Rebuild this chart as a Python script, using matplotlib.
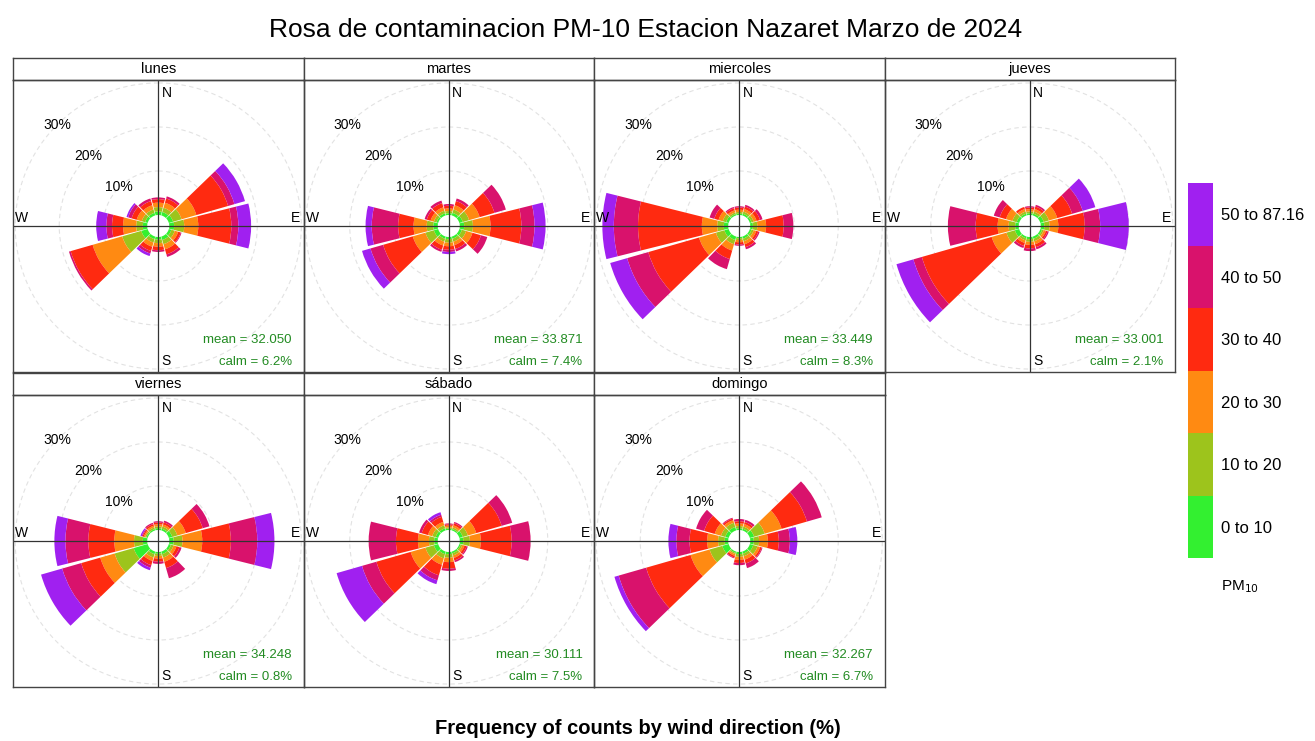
import numpy as np
import matplotlib
matplotlib.use("Agg")
import matplotlib.pyplot as plt
from matplotlib.colors import ListedColormap, BoundaryNorm
import matplotlib.colorbar as mcolorbar

plt.rcParams['font.family'] = ['Liberation Sans', 'DejaVu Sans']

dias = ["lunes", "martes", "miercoles", "jueves", "viernes", "sábado", "domingo"]
direcciones = [0, 30, 60, 90, 120, 150, 180, 210, 240, 270, 300, 330]
intervalos = ["0 to 10", "10 to 20", "20 to 30", "30 to 40", "40 to 50", "50 to 87.16"]
colores = ["#33f030", "#9dc41c", "#ff8a12", "#ff2a10", "#d9126c", "#a020f0"]

# frecuencia (%) por direccion (filas) e intervalo de PM10 (columnas)
lunes = [[0.8, 1.0, 1.0, 0.8, 0.4, 0.0],
         [0.8, 1.0, 1.2, 1.0, 0.5, 0.0],
         [1.0, 2.0, 3.5, 7.5, 1.5, 2.5],
         [1.1, 2.3, 3.2, 7.5, 1.6, 2.9],
         [0.6, 0.8, 0.8, 0.6, 0.2, 0.0],
         [0.8, 1.0, 1.2, 1.2, 0.6, 0.0],
         [0.6, 0.8, 0.8, 0.8, 0.4, 0.0],
         [0.6, 0.8, 1.0, 1.0, 0.6, 0.6],
         [1.5, 4.5, 7.0, 5.2, 0.4, 0.0],
         [1.0, 1.5, 3.0, 2.5, 1.3, 2.3],
         [0.6, 0.8, 1.2, 1.2, 0.8, 0.4],
         [0.6, 0.8, 1.0, 1.0, 0.6, 0.0]]
martes = [[0.4, 0.5, 0.6, 0.6, 0.4, 0.0],
          [0.6, 0.8, 1.0, 1.0, 0.6, 0.0],
          [0.8, 1.5, 2.5, 3.5, 2.7, 0.0],
          [1.0, 2.0, 4.0, 7.0, 3.0, 2.5],
          [0.6, 1.0, 1.5, 2.0, 1.5, 0.0],
          [0.5, 0.7, 0.8, 0.9, 0.6, 0.0],
          [0.5, 0.8, 0.8, 0.8, 0.5, 0.5],
          [0.5, 0.7, 0.9, 1.0, 0.5, 0.0],
          [1.0, 2.0, 3.0, 7.0, 3.0, 2.0],
          [1.0, 1.5, 3.0, 3.5, 6.0, 1.4],
          [0.4, 0.6, 0.8, 0.9, 0.5, 0.0],
          [0.5, 0.6, 0.8, 1.0, 0.6, 0.0]]
miercoles = [[0.3, 0.4, 0.5, 0.5, 0.3, 0.0],
             [0.4, 0.5, 0.6, 0.6, 0.4, 0.0],
             [0.4, 0.5, 0.7, 0.8, 0.6, 0.0],
             [0.6, 1.0, 2.0, 4.0, 2.2, 0.0],
             [0.4, 0.5, 0.6, 0.5, 0.3, 0.0],
             [0.5, 0.6, 0.7, 0.7, 0.5, 0.0],
             [0.3, 0.4, 0.5, 0.5, 0.3, 0.0],
             [0.8, 1.0, 1.5, 2.0, 2.4, 0.0],
             [1.0, 2.0, 4.0, 12.0, 5.0, 4.0],
             [1.0, 1.5, 3.5, 14.5, 5.5, 2.6],
             [0.6, 0.8, 1.0, 1.0, 1.1, 0.0],
             [0.3, 0.4, 0.5, 0.5, 0.3, 0.0]]
jueves = [[0.4, 0.4, 0.5, 0.4, 0.3, 0.0],
          [0.4, 0.5, 0.6, 0.6, 0.4, 0.0],
          [0.8, 1.2, 2.0, 3.5, 2.5, 3.0],
          [0.8, 1.2, 2.0, 6.0, 3.5, 6.5],
          [0.4, 0.4, 0.5, 0.4, 0.3, 0.0],
          [0.5, 0.6, 0.7, 0.7, 0.5, 0.0],
          [0.5, 0.6, 0.7, 0.8, 0.6, 0.0],
          [0.4, 0.5, 0.6, 0.7, 0.5, 0.0],
          [1.0, 2.0, 3.5, 16.5, 2.0, 4.0],
          [0.8, 1.5, 2.5, 5.0, 6.3, 0.0],
          [0.6, 1.0, 1.5, 1.5, 1.4, 0.0],
          [0.4, 0.5, 0.6, 0.5, 0.0, 0.0]]
viernes = [[0.4, 0.4, 0.5, 0.4, 0.3, 0.0],
           [0.4, 0.5, 0.5, 0.5, 0.4, 0.0],
           [0.8, 1.2, 2.0, 4.0, 1.6, 0.0],
           [1.0, 2.0, 4.5, 6.5, 6.0, 3.9],
           [0.5, 0.6, 0.7, 0.7, 0.5, 0.0],
           [0.6, 0.8, 1.0, 1.5, 2.4, 0.0],
           [0.4, 0.5, 0.6, 0.7, 0.5, 0.0],
           [0.6, 0.8, 0.8, 1.0, 0.6, 0.6],
           [3.3, 4.5, 3.4, 4.5, 4.5, 5.0],
           [1.0, 2.0, 4.5, 5.9, 5.2, 2.5],
           [0.3, 0.3, 0.3, 0.3, 0.2, 0.3],
           [0.3, 0.4, 0.4, 0.4, 0.3, 0.0]]
sabado = [[0.3, 0.3, 0.4, 0.3, 0.2, 0.0],
          [0.3, 0.4, 0.5, 0.5, 0.3, 0.0],
          [0.8, 1.2, 2.0, 6.0, 2.5, 0.0],
          [0.8, 1.5, 2.5, 7.0, 4.3, 0.0],
          [0.3, 0.4, 0.5, 0.5, 0.3, 0.0],
          [0.4, 0.5, 0.6, 0.6, 0.4, 0.0],
          [0.5, 0.8, 1.0, 1.5, 0.5, 0.0],
          [0.6, 1.0, 1.5, 2.5, 1.2, 0.9],
          [1.0, 2.0, 3.5, 8.1, 3.4, 6.0],
          [0.8, 1.2, 2.5, 5.0, 6.2, 0.0],
          [0.6, 0.8, 1.0, 1.5, 0.6, 0.0],
          [0.5, 0.7, 0.8, 1.2, 0.5, 0.6]]
domingo = [[0.4, 0.5, 0.6, 0.5, 0.5, 0.0],
           [0.4, 0.5, 0.6, 0.5, 0.5, 0.0],
           [1.0, 2.5, 4.0, 6.0, 3.5, 0.0],
           [0.8, 1.2, 2.0, 2.5, 2.5, 1.7],
           [0.8, 1.0, 0.6, 0.4, 0.2, 0.0],
           [0.5, 0.6, 0.8, 0.9, 1.1, 0.0],
           [0.5, 0.6, 0.7, 0.7, 0.5, 0.0],
           [0.3, 0.3, 0.4, 0.4, 0.2, 0.0],
           [1.5, 3.0, 4.5, 10.5, 6.5, 1.0],
           [0.8, 1.5, 2.5, 4.0, 3.0, 1.8],
           [0.8, 1.0, 1.5, 2.5, 1.9, 0.0],
           [0.8, 1.0, 0.6, 0.4, 0.2, 0.0]]
datos = [lunes, martes, miercoles, jueves, viernes, sabado, domingo]
medias = [32.050, 33.871, 33.449, 33.001, 34.248, 30.111, 32.267]
calmas = [6.2, 7.4, 8.3, 2.1, 0.8, 7.5, 6.7]

W, H = 1315, 741
fig = plt.figure(figsize=(W / 100, H / 100), dpi=100)

def rect(x, ytop, w, h):
    return [x / W, 1 - (ytop + h) / H, w / W, h / H]

hueco = 2.5      # radio del centro vacio
rmax = 33
anillos = [10, 20, 30]
ancho_col = 290.5
filas_top = [58, 373]
alto_strip = 22
alto_panel = 292

theta = np.deg2rad(direcciones)
circ = np.linspace(0, 2 * np.pi, 200)

for i, dia in enumerate(dias):
    fila, col = i // 4, i % 4
    x0 = 13 + col * ancho_col
    ytop = filas_top[fila]

    # tira con el nombre del dia
    axs = fig.add_axes(rect(x0, ytop, ancho_col, alto_strip))
    axs.set_xticks([]); axs.set_yticks([])
    axs.text(0.5, 0.48, dia, ha="center", va="center", fontsize=10.5, transform=axs.transAxes)
    for sp in axs.spines.values():
        sp.set_color("#444444"); sp.set_linewidth(1)

    r = rect(x0, ytop + alto_strip, ancho_col, alto_panel)

    # rosa polar
    axp = fig.add_axes(r, projection="polar", zorder=1)
    axp.set_theta_zero_location("N")
    axp.set_theta_direction(-1)
    axp.set_ylim(0, rmax)
    axp.set_axis_off()
    for a in anillos:
        axp.plot(circ, np.full_like(circ, hueco + a), color="#e2e2e2", lw=0.8,
                 ls=(0, (4, 3)), zorder=0)
        axp.text(np.deg2rad(315), hueco + a, f"{a}%", ha="center", va="center",
                 fontsize=10, zorder=1)
    d = np.array(datos[i])
    base = hueco + np.concatenate([np.zeros((d.shape[0], 1)), np.cumsum(d, axis=1)[:, :-1]], axis=1)
    for k in range(d.shape[1]):
        axp.bar(theta, d[:, k], width=np.deg2rad(28), bottom=base[:, k],
                color=colores[k], edgecolor="none", align="center", zorder=2)

    # marco, cruz y textos
    axf = fig.add_axes(r, zorder=2)
    axf.patch.set_alpha(0)
    axf.set_xlim(-1, 1); axf.set_ylim(-1, 1)
    axf.set_xticks([]); axf.set_yticks([])
    for sp in axf.spines.values():
        sp.set_color("#444444"); sp.set_linewidth(1)
    axf.axvline(0, color="#333333", lw=0.9)
    axf.axhline(0, color="#333333", lw=0.9)
    axf.text(0.512, 0.978, "N", ha="left", va="top", fontsize=10, transform=axf.transAxes)
    axf.text(0.512, 0.012, "S", ha="left", va="bottom", fontsize=10, transform=axf.transAxes)
    axf.text(0.008, 0.505, "W", ha="left", va="bottom", fontsize=10, transform=axf.transAxes)
    axf.text(0.988, 0.505, "E", ha="right", va="bottom", fontsize=10, transform=axf.transAxes)
    axf.text(0.96, 0.11, f"mean = {medias[i]:.3f}", ha="right", va="center",
             fontsize=9.5, color="forestgreen", transform=axf.transAxes)
    axf.text(0.96, 0.034, f"calm = {calmas[i]:.1f}%", ha="right", va="center",
             fontsize=9.5, color="forestgreen", transform=axf.transAxes)

# barra de colores
axc = fig.add_axes(rect(1188, 183, 25, 375))
cmap = ListedColormap(colores)
norm = BoundaryNorm(np.arange(7), 6)
cb = mcolorbar.ColorbarBase(axc, cmap=cmap, norm=norm, ticks=np.arange(6) + 0.5)
cb.set_ticklabels(intervalos)
cb.outline.set_visible(False)
axc.minorticks_off()
axc.tick_params(which="both", length=0, labelsize=12, pad=6)
fig.text(1221 / W, 1 - 587 / H, "PM$_{10}$", ha="left", va="center", fontsize=11)

fig.text(646 / W, 1 - 30 / H, "Rosa de contaminacion PM-10 Estacion Nazaret Marzo de 2024",
         ha="center", va="center", fontsize=19)
fig.text(638 / W, 1 - 729 / H, "Frequency of counts by wind direction (%)",
         ha="center", va="center", fontsize=14.5, fontweight="bold")

fig.savefig("out.png", dpi=100, facecolor="white")
